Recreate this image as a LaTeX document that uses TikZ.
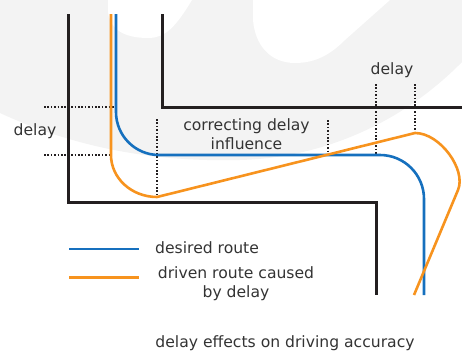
\documentclass[tikz,border=0pt]{standalone}
\usepackage{fontspec}
\setmainfont{DejaVu Sans}
\definecolor{routeblue}{HTML}{1670BE}
\definecolor{routeorange}{HTML}{F7931E}
\definecolor{wall}{HTML}{231F20}
\definecolor{txt}{HTML}{333333}
\definecolor{wm}{HTML}{F3F3F3}
\begin{document}
\begin{tikzpicture}[x=1pt,y=-1pt,
  wallline/.style={draw=wall,line width=3pt},
  blueroute/.style={draw=routeblue,line width=2.6pt},
  orangeroute/.style={draw=routeorange,line width=2.6pt},
  dotline/.style={draw=wall,line width=1.1pt,dash pattern=on 1.6pt off 1.8pt},
  lbl/.style={text=txt,inner sep=0pt,font=\fontsize{15.6}{19.3}\selectfont}]
\useasboundingbox (0,0) rectangle (462,351);
% watermark
\fill[wm] (0,0) -- (0,113) .. controls (80,150) and (160,162) .. (240,160)
  .. controls (320,158) and (400,125) .. (462,62) -- (462,0) -- cycle;
\fill[white] (108,0) -- (108,12) .. controls (110,30) and (125,38) .. (148,38)
  .. controls (165,38) and (175,28) .. (192,0) -- cycle;
\fill[white] (253,0) -- (253,20) .. controls (255,45) and (270,63) .. (295,63)
  .. controls (315,63) and (330,55) .. (345,40) -- (390,0) -- cycle;
% walls
\draw[wallline] (68.5,14) -- (68.5,202) -- (376,202) -- (376,295);
\draw[wallline] (162,14) -- (162,107) -- (462,107);
% dotted guides
\coordinate (h1a) at (44,107); \coordinate (h1b) at (116,107);
\coordinate (h2a) at (44,155); \coordinate (h2b) at (111,155);
\coordinate (v1a) at (157,119); \coordinate (v1b) at (157,197);
\coordinate (v2a) at (328,120); \coordinate (v2b) at (328,155);
\coordinate (v3a) at (376,84); \coordinate (v3b) at (376,155);
\coordinate (v4a) at (415,84); \coordinate (v4b) at (415,133);
\draw[dotline] (h1a) -- (h1b);
\draw[dotline] (h2a) -- (h2b);
\draw[dotline] (v1a) -- (v1b);
\draw[dotline] (v2a) -- (v2b);
\draw[dotline] (v3a) -- (v3b);
\draw[dotline] (v4a) -- (v4b);
% routes
\draw[blueroute] (116,14) -- (116,112) arc[start angle=180,end angle=90,radius=43]
  -- (380,155) arc[start angle=-90,end angle=0,radius=44] -- (424,295);
\draw[orangeroute,line join=miter] (111,14) -- (111,155)
  arc[start angle=180,end angle=90,x radius=46,y radius=42]
  -- (415,133) .. controls (440,133) and (466.5,169.7) .. (458,190) -- (414,295);
% labels
\node[lbl,anchor=base] (dl) at (35,135) {delay};
\node[lbl,anchor=base] (dr) at (392,74) {delay};
\node[lbl,anchor=north,align=center] (corr) at (246.5,118.5) {correcting delay\\influence};
% legend
\coordinate (lb1) at (69,249); \coordinate (lb2) at (139,249);
\coordinate (lo1) at (69,277.5); \coordinate (lo2) at (139,277.5);
\draw[blueroute] (lb1) -- (lb2);
\draw[orangeroute] (lo1) -- (lo2);
\node[lbl,anchor=base west] (ld) at (155,253) {desired route};
\node[lbl,anchor=north,align=center] (lo) at (236,266) {driven route caused\\by delay};
\node[lbl,anchor=base] (cap) at (285,347) {delay effects on driving accuracy};
\end{tikzpicture}
\end{document}
